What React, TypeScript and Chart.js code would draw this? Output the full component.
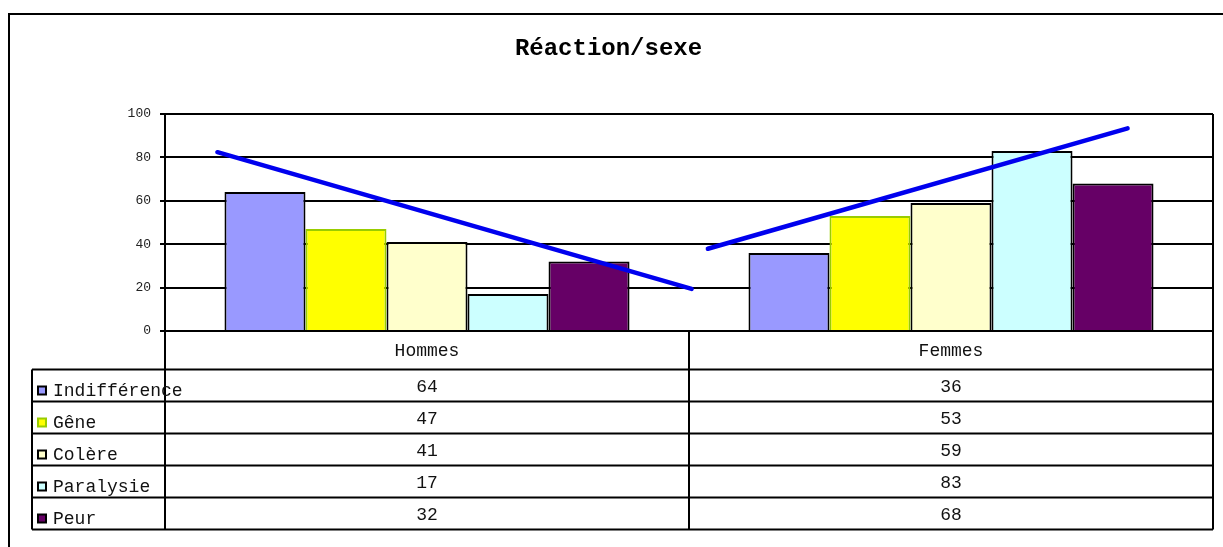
import React, { useEffect, useRef } from "react";
import { Chart, registerables } from "chart.js";

Chart.register(...registerables);

const chartTitle = "Réaction/sexe";
const categories = ["Hommes", "Femmes"];
const seriesNames = ["Indifférence", "Gêne", "Colère", "Paralysie", "Peur"];
const indifference = [64, 36];
const gene = [47, 53];
const colere = [41, 59];
const paralysie = [17, 83];
const peur = [32, 68];
const yTickValues = [0, 20, 40, 60, 80, 100];
// hand-drawn trend strokes, in data units (x = category index, y = value)
const trendHommes = [
  { x: -0.4, y: 82.4 },
  { x: 0.505, y: 19.4 },
];
const trendFemmes = [
  { x: 0.536, y: 37.9 },
  { x: 1.337, y: 93.4 },
];

const seriesValues = [indifference, gene, colere, paralysie, peur];
const fillColors = ["#9999FF", "#FFFF00", "#FFFFCC", "#CCFFFF", "#660066"];
const borderColors = ["#000000", "#99CC00", "#000000", "#000000", "#000000"];

const MONO = "'Liberation Mono', 'Courier New', monospace";

const tablePlugin = {
  id: "dataTable",
  afterDraw(chart: any) {
    const ctx = chart.ctx as CanvasRenderingContext2D;
    const area = chart.chartArea;
    const xs = chart.scales.x;
    const left = area.left;
    const right = area.right;
    const top = area.bottom;
    const headerH = 38.5;
    const rowH = 32;
    const legendLeft = 32;
    const n = seriesNames.length;
    const tableBottom = top + headerH + rowH * n;
    const centers = categories.map((_, i) => xs.getPixelForValue(i));
    const mids: number[] = [];
    for (let i = 0; i < centers.length - 1; i++) mids.push((centers[i] + centers[i + 1]) / 2);

    ctx.save();
    // outer frame
    ctx.strokeStyle = "#000";
    ctx.lineWidth = 2;
    ctx.beginPath();
    ctx.moveTo(9, 560);
    ctx.lineTo(9, 14);
    ctx.lineTo(1240, 14);
    ctx.stroke();

    // plot right border + table lines
    ctx.beginPath();
    ctx.moveTo(right, area.top);
    ctx.lineTo(right, tableBottom);
    ctx.moveTo(left, top);
    ctx.lineTo(left, tableBottom);
    mids.forEach((m) => {
      ctx.moveTo(Math.round(m), top);
      ctx.lineTo(Math.round(m), tableBottom);
    });
    ctx.moveTo(legendLeft, top + headerH);
    ctx.lineTo(legendLeft, tableBottom);
    for (let r = 0; r <= n; r++) {
      const y = top + headerH + rowH * r;
      ctx.moveTo(legendLeft, y);
      ctx.lineTo(right, y);
    }
    ctx.stroke();

    // header labels
    ctx.fillStyle = "#111";
    ctx.font = `18px ${MONO}`;
    ctx.textAlign = "center";
    ctx.textBaseline = "alphabetic";
    categories.forEach((c, i) => {
      ctx.fillText(c, centers[i], top + 25);
    });

    // rows
    seriesNames.forEach((name, r) => {
      const rowBottom = top + headerH + rowH * (r + 1);
      ctx.fillStyle = fillColors[r];
      ctx.fillRect(38, rowBottom - 15, 8, 8);
      ctx.strokeStyle = borderColors[r];
      ctx.lineWidth = 2;
      ctx.strokeRect(38, rowBottom - 15, 8, 8);
      ctx.fillStyle = "#111";
      ctx.textAlign = "left";
      ctx.fillText(name, 53, rowBottom - 5.5);
      ctx.textAlign = "center";
      seriesValues[r].forEach((v, i) => {
        ctx.fillText(String(v), centers[i], rowBottom - 9.5);
      });
    });
    ctx.restore();
  },
};

export default function App() {
  const ref = useRef<HTMLCanvasElement | null>(null);
  useEffect(() => {
    if (!ref.current) return;
    const trendStyle = {
      type: "line" as const,
      borderColor: "#0000EE",
      borderWidth: 4.5,
      borderCapStyle: "round" as const,
      pointRadius: 0,
      fill: false,
      order: 0,
    };
    const chart = new Chart(ref.current, {
      type: "bar",
      data: {
        datasets: [
          ...seriesNames.map((name, i) => ({
            type: "bar" as const,
            label: name,
            data: seriesValues[i].map((v, c) => ({ x: c, y: v })),
            backgroundColor: fillColors[i],
            borderColor: borderColors[i],
            borderWidth: 2,
            borderSkipped: "start" as const,
            categoryPercentage: 0.773,
            barPercentage: 1,
            order: 1,
          })),
          { ...trendStyle, label: "trendHommes", data: trendHommes as any },
          { ...trendStyle, label: "trendFemmes", data: trendFemmes as any },
        ],
      },
      options: {
        animation: false,
        responsive: false,
        devicePixelRatio: 1,
        layout: { padding: { left: 4, right: 10, top: 0, bottom: 216 } },
        plugins: {
          legend: { display: false },
          tooltip: { enabled: false },
          title: {
            display: true,
            text: chartTitle,
            color: "#000",
            font: { family: MONO, size: 24, weight: "bold", lineHeight: 1.2 },
            padding: { top: 34.1, bottom: 51.1 },
          },
        },
        scales: {
          x: {
            type: "linear",
            display: false,
            offset: false,
            min: -0.5,
            max: 1.5,
            afterBuildTicks: (scale: any) => {
              scale.ticks = categories.map((_, i) => ({ value: i }));
            },
          },
          y: {
            type: "linear",
            min: 0,
            max: 100,
            afterFit: (scale: any) => {
              scale.width = 161;
            },
            afterBuildTicks: (scale: any) => {
              scale.ticks = yTickValues.map((v) => ({ value: v }));
            },
            ticks: {
              color: "#222",
              font: { family: MONO, size: 13 },
              padding: 9,
            },
            grid: {
              color: "#000",
              lineWidth: 2,
              tickLength: 5,
              drawTicks: true,
            },
            border: { display: true, color: "#000", width: 2 },
          },
        },
      },
      plugins: [tablePlugin],
    } as any);
    return () => chart.destroy();
  }, []);
  return (
    <div style={{ position: "fixed", left: 0, top: 0, width: 1223, height: 547, background: "#fff" }}>
      <canvas ref={ref} width={1223} height={547} style={{ width: 1223, height: 547, display: "block" }} />
    </div>
  );
}
